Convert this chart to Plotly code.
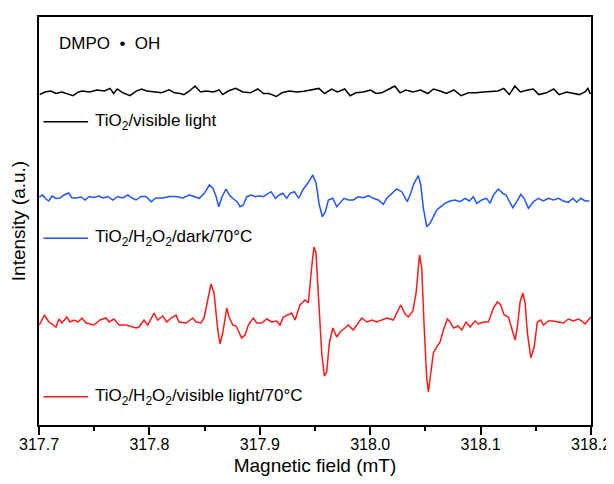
import plotly.graph_objects as go

# ---- data (field in mT, intensity in a.u. incl. vertical offset) ----
field_black = [317.7006,317.7054,317.7107,317.7154,317.7207,317.7257,317.7308,317.7358,317.7391,317.7458,
317.7525,317.7592,317.7643,317.7676,317.7709,317.7760,317.7824,317.7877,317.7928,317.7977,
317.8044,317.8111,317.8178,317.8228,317.8279,317.8313,317.8363,317.8413,317.8463,317.8513,
317.8580,317.8631,317.8664,317.8714,317.8781,317.8848,317.8915,317.8982,317.9033,317.9083,
317.9150,317.9199,317.9267,317.9334,317.9401,317.9468,317.9535,317.9586,317.9651,317.9703,
317.9769,317.9819,317.9870,317.9937,318.0004,318.0053,318.0104,318.0171,318.0222,318.0271,
318.0322,318.0388,318.0455,318.0522,318.0573,318.0640,318.0690,318.0757,318.0823,318.0890,
318.0957,318.1024,318.1091,318.1158,318.1210,318.1260,318.1310,318.1360,318.1427,318.1477,
318.1528,318.1595,318.1662,318.1711,318.1778,318.1828,318.1895,318.1945,318.1972,318.1995]
int_black = [330.4,333,334,331.5,333,331.5,329.3,333,334,333,
335,334,336.6,331.5,336,332.2,329.3,333.7,336,334,
333,332.2,335.2,332.2,331.5,330.4,334,339,333,334,
333,335.2,330.4,334,336.6,333,332.2,336,331.5,331.5,
328.5,332.2,334,333,333.7,335,336.6,331.5,336,333,
336,329.3,332.2,333,335,331.5,332.2,336,339,332.2,
335,333,335,331.5,336,333.7,331.5,335,329.3,332.2,
332.2,333,333.7,334,336.6,330.4,339,333,335,336,
330.4,332.2,336,330.4,333,332.2,330.4,333,336.6,331]

field_blue = [317.7003,317.7033,317.7063,317.7088,317.7118,317.7154,317.7190,317.7226,317.7269,317.7299,
317.7335,317.7381,317.7419,317.7453,317.7498,317.7541,317.7580,317.7625,317.7668,317.7713,
317.7758,317.7804,317.7843,317.7879,317.7924,317.7969,317.8015,317.8060,317.8121,317.8181,
317.8241,317.8302,317.8362,317.8407,317.8452,317.8498,317.8543,317.8574,317.8604,317.8628,
317.8658,317.8694,317.8724,317.8755,317.8794,317.8821,317.8851,317.8882,317.8921,317.8960,
317.8996,317.9032,317.9072,317.9102,317.9141,317.9177,317.9208,317.9244,317.9274,317.9313,
317.9353,317.9389,317.9434,317.9480,317.9510,317.9539,317.9567,317.9594,317.9621,317.9661,
317.9697,317.9733,317.9763,317.9802,317.9847,317.9893,317.9938,317.9983,318.0028,318.0074,
318.0119,318.0150,318.0195,318.0240,318.0286,318.0315,318.0336,318.0361,318.0397,318.0436,
318.0458,318.0482,318.0512,318.0542,318.0572,318.0603,318.0639,318.0678,318.0723,318.0768,
318.0814,318.0859,318.0898,318.0934,318.0965,318.1010,318.1055,318.1086,318.1116,318.1161,
318.1201,318.1231,318.1261,318.1292,318.1328,318.1364,318.1394,318.1433,318.1478,318.1523,
318.1569,318.1614,318.1659,318.1705,318.1750,318.1795,318.1835,318.1871,318.1908,318.1947,318.1986]
int_blue = [228,230,226,224,229,226.5,227,230,232,227,
227,228,225,228.5,227.5,229,227,228.5,225,228.5,
227,230,227,225,228.5,228.5,223.3,227,227,228.5,
228.5,227,230,228.5,226.7,231.7,240,237,228.5,218.3,
228.3,236,230,226.7,223.3,218.3,220,228.3,230,228.3,
229.3,228.3,231.7,233.3,226.7,230,231.7,226.7,231.7,233.3,
226.7,235,241.7,250,241.7,220,208.3,213.3,225,226.7,
218.3,223.3,226.7,225,225,228.3,227.3,229.3,226.7,225,
220.7,226.7,231.7,236,233.3,226.7,223.3,230,241.7,249.3,
240,216.7,198.3,201.7,208.3,215,218.3,221.7,224,225,
223.3,226.7,224,228.3,221.7,225,226.7,221.7,230,236,
231.7,230,223.3,217.3,223.3,230.7,226.7,216.7,223.3,226.7,
224,226.7,225,226.7,224,222.7,226.7,222.7,226.7,224,224]

field_red = [317.7003,317.7048,317.7090,317.7154,317.7181,317.7208,317.7251,317.7281,317.7317,317.7353,
317.7390,317.7426,317.7498,317.7553,317.7607,317.7634,317.7679,317.7725,317.7788,317.7879,
317.7906,317.7951,317.7985,317.8042,317.8075,317.8121,317.8157,317.8196,317.8241,317.8268,
317.8332,317.8392,317.8422,317.8467,317.8495,317.8528,317.8558,317.8586,317.8619,317.8640,
317.8664,317.8701,317.8721,317.8755,317.8785,317.8836,317.8866,317.8896,317.8941,317.8972,
317.9017,317.9063,317.9108,317.9153,317.9183,317.9213,317.9258,317.9289,317.9319,317.9364,
317.9410,317.9440,317.9470,317.9491,317.9509,317.9530,317.9561,317.9585,317.9606,317.9630,
317.9661,317.9697,317.9727,317.9772,317.9802,317.9847,317.9893,317.9923,317.9969,318.0014,
318.0059,318.0105,318.0150,318.0180,318.0210,318.0241,318.0277,318.0316,318.0346,318.0386,
318.0416,318.0446,318.0467,318.0488,318.0512,318.0527,318.0549,318.0572,318.0603,318.0633,
318.0663,318.0699,318.0724,318.0754,318.0796,318.0830,318.0869,318.0905,318.0950,318.0980,
318.1025,318.1071,318.1116,318.1152,318.1183,318.1213,318.1252,318.1283,318.1313,318.1333,
318.1358,318.1382,318.1403,318.1424,318.1455,318.1485,318.1514,318.1545,318.1569,318.1614,
318.1659,318.1705,318.1750,318.1795,318.1841,318.1886,318.1917,318.1947,318.1977,318.1998]
int_red = [100,110,103,98,106,102,108,103,105,103,
107,102,100,105,107,103,106,100,100,97,
98,105,100,112,105,109,103,107,110,103,
102,107,103,102,107,125,141,132,95,81,
92,117,108,100,99,87,90,100,107,102,
102,106,103,104,100,108,110,112,105,120,
125,122,158,178,172,135,72,49,53,82,
97,88,93,97,100,95,102,107,103,105,
103,105,107,106,105,112,120,111,108,114,
132,170,157,100,47,33,52,72,78,83,
95,106,103,97,99,95,103,98,104,101,
103,103,117,123,120,110,108,95,85,98,
123,132,122,92,67,78,103,105,100,104,
104,103,102,106,104,106,104,101,105,108]

x_ticks = [317.7, 317.8, 317.9, 318.0, 318.1, 318.2]
x_tick_text = ["317.7", "317.8", "317.9", "318.0", "318.1", "318.2"]
labels = ["TiO<sub>2</sub>/visible light",
          "TiO<sub>2</sub>/H<sub>2</sub>O<sub>2</sub>/dark/70°C",
          "TiO<sub>2</sub>/H<sub>2</sub>O<sub>2</sub>/visible light/70°C"]
colors = ["#000000", "#2255ff", "#ff1a1a"]
legend_y = [0.743, 0.458, 0.069]

FONT = "Liberation Sans, Arial, sans-serif"

fig = go.Figure()
for fx, iy, c, name in [(field_black, int_black, colors[0], labels[0]),
                        (field_blue, int_blue, colors[1], labels[1]),
                        (field_red, int_red, colors[2], labels[2])]:
    fig.add_trace(go.Scatter(x=fx, y=iy, mode="lines", name=name,
                             line=dict(color=c, width=1.5), showlegend=False))

shapes = []
annotations = []
for c, name, ly in zip(colors, labels, legend_y):
    shapes.append(dict(type="line", xref="paper", yref="paper",
                       x0=0.008, x1=0.089, y0=ly, y1=ly,
                       line=dict(color=c, width=1.5)))
    annotations.append(dict(xref="paper", yref="paper", x=0.098, y=ly,
                            xanchor="left", yanchor="middle", showarrow=False,
                            text=name, font=dict(family=FONT, size=17, color="#000")))
annotations.append(dict(xref="paper", yref="paper", x=0.032, y=0.934,
                        xanchor="left", yanchor="middle", showarrow=False,
                        text="DMPO\u00a0\u00a0•\u00a0\u00a0OH",
                        font=dict(family=FONT, size=17, color="#000")))

# page body has an 8px default margin, so the figure is sized/offset to compensate
fig.update_layout(
    width=606, height=468,
    margin=dict(l=31, r=23, t=9, b=51, autoexpand=False),
    paper_bgcolor="white", plot_bgcolor="white",
    font=dict(family=FONT, size=16, color="#000"),
    shapes=shapes, annotations=annotations,
    xaxis=dict(range=[317.7, 318.2], tickvals=x_ticks, ticktext=x_tick_text,
               ticks="outside", ticklen=8, tickwidth=1.5, tickcolor="#000",
               ticklabelstandoff=-4,
               minor=dict(ticks="outside", ticklen=4, dtick=0.05, tickwidth=1.5, tickcolor="#000"),
               showline=True, linecolor="#000", linewidth=1.5, mirror=True,
               showgrid=False, zeroline=False, automargin=False,
               title=dict(text="Magnetic field (mT)", standoff=9),
               tickfont=dict(size=16)),
    yaxis=dict(range=[0, 408], showticklabels=False, ticks="",
               showline=True, linecolor="#000", linewidth=1.5, mirror=True,
               showgrid=False, zeroline=False, automargin=False,
               title=dict(text="Intensity (a.u.)", standoff=10)),
)

fig.write_html("out.html")
